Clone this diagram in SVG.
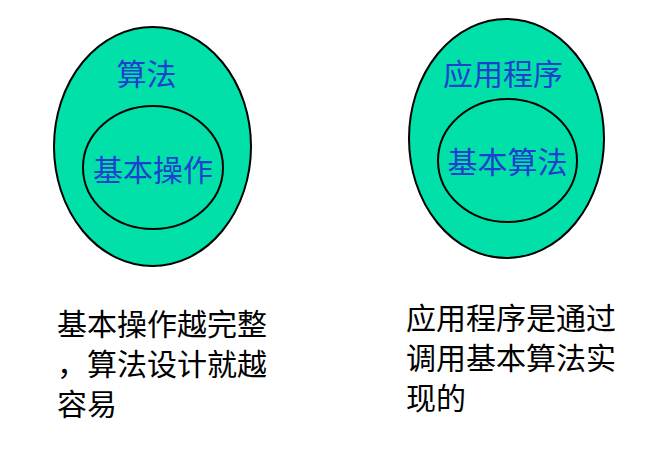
<svg xmlns="http://www.w3.org/2000/svg" width="669" height="452" viewBox="0 0 669 452">
<style>
.outer{fill:#00E0A8;stroke:#000;stroke-width:2}
.inner{fill:none;stroke:#000;stroke-width:2}
.lbl{font-family:"Noto Sans CJK SC","Noto Sans CJK TC",sans-serif;font-size:30px;fill:#1F3FCF;text-anchor:middle}
.cap{font-family:"Noto Sans CJK SC","Noto Sans CJK TC",sans-serif;font-size:30px;fill:#000}
</style>
<rect width="669" height="452" fill="#fff"/>
<g id="left-outer">
<ellipse class="outer" cx="152.5" cy="146.5" rx="98.5" ry="119.5"/>
<text class="lbl" x="146.5" y="85">算法</text>
</g>
<g id="left-inner">
<ellipse class="inner" cx="153" cy="167.5" rx="70" ry="61.5"/>
<text class="lbl" x="153" y="181">基本操作</text>
</g>
<g id="right-outer">
<ellipse class="outer" cx="506.5" cy="138.5" rx="97.5" ry="119.5"/>
<text class="lbl" x="503" y="85">应用程序</text>
</g>
<g id="right-inner">
<ellipse class="inner" cx="507.5" cy="160.5" rx="69.5" ry="61.5"/>
<text class="lbl" x="507.5" y="173">基本算法</text>
</g>
<g id="connectors"></g>
<g id="left-caption">
<text class="cap" x="57" y="335">基本操作越完整</text>
<text class="cap" x="57" y="375">，算法设计就越</text>
<text class="cap" x="57" y="415">容易</text>
</g>
<g id="right-caption">
<text class="cap" x="406" y="329">应用程序是通过</text>
<text class="cap" x="406" y="369">调用基本算法实</text>
<text class="cap" x="406" y="409">现的</text>
</g>
</svg>
